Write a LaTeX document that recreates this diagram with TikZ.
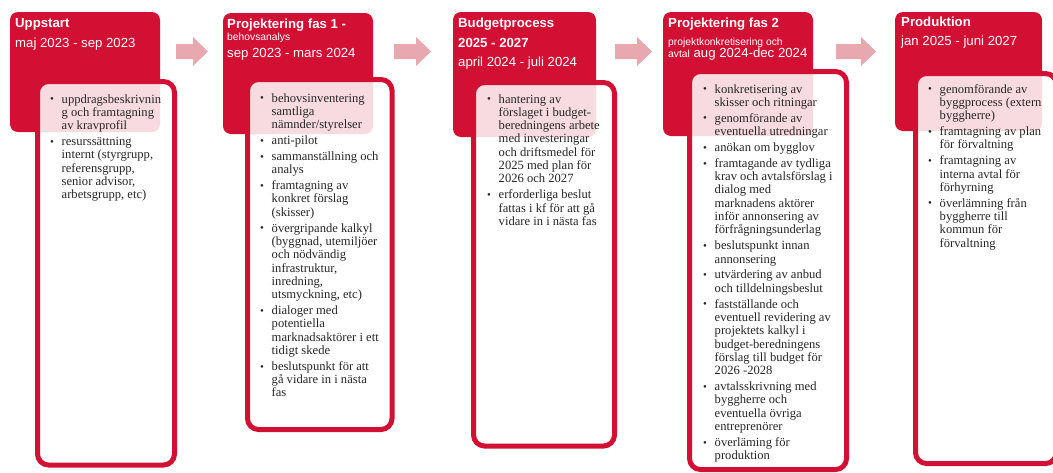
\documentclass[tikz,border=0pt]{standalone}
\usepackage{fontspec}
\setmainfont{Liberation Serif}
\newfontfamily\hdrfont{Liberation Sans}
\definecolor{cr}{RGB}{210,16,52}
\definecolor{pk}{RGB}{232,168,175}
\definecolor{txt}{RGB}{38,38,38}
\newcommand\bodyfont{\fontsize{12.6}{13.3}\selectfont}
\newcommand\bi{\hangindent=11.5pt\hangafter=1\noindent\hbox to 11.5pt{\raisebox{0.3pt}{\fontsize{11}{11}\selectfont\textbullet}\hfil}}
\newcommand\bl{\par\vskip2.6pt\relax\bi}
\newcommand\bodybox[1]{\parbox[t]{220pt}{\bodyfont\parskip=0pt\rightskip=0pt plus 1fil\relax #1}}
\tikzset{
  redbox/.style={fill=cr, draw=none, rounded corners=8pt, anchor=north west, inner sep=0, outer sep=0},
  whitebox/.style={draw=cr, line width=5pt, fill=white, fill opacity=0.85, rounded corners=11pt, anchor=north west, inner sep=0, outer sep=0},
  hd/.style={anchor=base west, inner sep=0, text=white, font=\hdrfont\fontsize{13.2}{15}\selectfont},
  hdb/.style={hd, font=\hdrfont\bfseries\fontsize{13.2}{15}\selectfont},
  hds/.style={hd, font=\hdrfont\fontsize{10.3}{12}\selectfont},
  body/.style={anchor=base west, inner sep=0, text=txt},
  parrow/.style={fill=pk, draw=none}
}
\newcommand\blockarrow[3]{% x, length, name
  \fill[parrow] (#1,44) -- ({#1+#2-15},44) -- ({#1+#2-15},37) -- ({#1+#2},51.5) -- ({#1+#2-15},66) -- ({#1+#2-15},59) -- (#1,59) -- cycle;
  \coordinate (#3) at ({#1+#2/2},51.5);
}
\begin{document}
\begin{tikzpicture}[x=1pt,y=-1pt]
\useasboundingbox (0,0) rectangle (1053,472);
\clip (0,0) rectangle (1053,472);

% red header boxes
\node[redbox, minimum width=150pt, minimum height=120pt] (r1) at (10,12) {};
\node[redbox, minimum width=150pt, minimum height=121pt] (r2) at (223,13) {};
\node[redbox, minimum width=143pt, minimum height=125pt] (r3) at (453,12) {};
\node[redbox, minimum width=150pt, minimum height=124pt] (r4) at (663,12) {};
\node[redbox, minimum width=147pt, minimum height=119pt] (r5) at (895,12) {};

% arrows
\blockarrow{176}{32}{a1}
\blockarrow{394}{37}{a2}
\blockarrow{615}{37}{a3}
\blockarrow{836}{40}{a4}

% white content boxes
\node[whitebox, minimum width=137pt, minimum height=383.5pt] (w1) at (37.5,81.5) {};
\node[whitebox, minimum width=144.5pt, minimum height=350pt] (w2) at (247.5,79.5) {};
\node[whitebox, minimum width=141pt, minimum height=363.5pt] (w3) at (473.5,82.5) {};
\node[whitebox, minimum width=157pt, minimum height=398pt] (w4) at (689.5,71.5) {};
\node[whitebox, minimum width=141pt, minimum height=390pt] (w5) at (915.5,73.5) {};

% header texts
\node[hdb] (h1a) at (15,27) {Uppstart};
\node[hd]  (h1b) at (15,47) {maj 2023 - sep 2023};

\node[hdb] (h2a) at (227,28) {Projektering fas 1 -};
\node[hds] (h2b) at (227,40) {behovsanalys};
\node[hd]  (h2c) at (227,57) {sep 2023 - mars 2024};

\node[hdb] (h3a) at (458,27) {Budgetprocess};
\node[hdb] (h3b) at (458,47) {2025 - 2027};
\node[hd]  (h3c) at (458,66) {april 2024 - juli 2024};

\node[hdb] (h4a) at (668,27) {Projektering fas 2};
\node[hds] (h4b) at (668,45) {projektkonkretisering och};
\node[hd]  (h4c) at (668,57) {{\fontsize{10.3}{12}\selectfont avtal} aug 2024-dec 2024};

\node[hdb] (h5a) at (901,26) {Produktion};
\node[hd]  (h5b) at (901,45) {jan 2025 - juni 2027};

% body texts
\node[body] (b1) at (50,103) {\bodybox{%
\bi uppdragsbeskrivnin\\ g och framtagning\\ av kravprofil
\bl resurssättning\\ internt (styrgrupp,\\ referensgrupp,\\ senior advisor,\\ arbetsgrupp, etc)\par}};

\node[body] (b2) at (260,102) {\bodybox{%
\bi behovsinventering\\ samtliga\\ nämnder/styrelser
\bl anti-pilot
\bl sammanställning och\\ analys
\bl framtagning av\\ konkret förslag\\ (skisser)
\bl övergripande kalkyl\\ (byggnad, utemiljöer\\ och nödvändig\\ infrastruktur,\\ inredning,\\ utsmyckning, etc)
\bl dialoger med\\ potentiella\\ marknadsaktörer i ett\\ tidigt skede
\bl beslutspunkt för att\\ gå vidare in i nästa\\ fas\par}};

\node[body] (b3) at (487,103) {\bodybox{%
\bi hantering av\\ förslaget i budget-\\ beredningens arbete\\ med investeringar\\ och driftsmedel för\\ 2025 med plan för\\ 2026 och 2027
\bl erforderliga beslut\\ fattas i kf för att gå\\ vidare in i nästa fas\par}};

\node[body] (b4) at (703,93) {\bodybox{%
\bi konkretisering av\\ skisser och ritningar
\bl genomförande av\\ eventuella utredningar
\bl anökan om bygglov
\bl framtagande av tydliga\\ krav och avtalsförslag i\\ dialog med\\ marknadens aktörer\\ inför annonsering av\\ förfrågningsunderlag
\bl beslutspunkt innan\\ annonsering
\bl utvärdering av anbud\\ och tilldelningsbeslut
\bl fastställande och\\ eventuell revidering av\\ projektets kalkyl i\\ budget-beredningens\\ förslag till budget för\\ 2026 -2028
\bl avtalsskrivning med\\ byggherre och\\ eventuella övriga\\ entreprenörer
\bl överläming för\\ produktion\par}};

\node[body] (b5) at (928,93) {\bodybox{%
\bi genomförande av\\ byggprocess (extern\\ byggherre)
\bl framtagning av plan\\ för förvaltning
\bl framtagning av\\ interna avtal för\\ förhyrning
\bl överlämning från\\ byggherre till\\ kommun för\\ förvaltning\par}};
\end{tikzpicture}
\end{document}
